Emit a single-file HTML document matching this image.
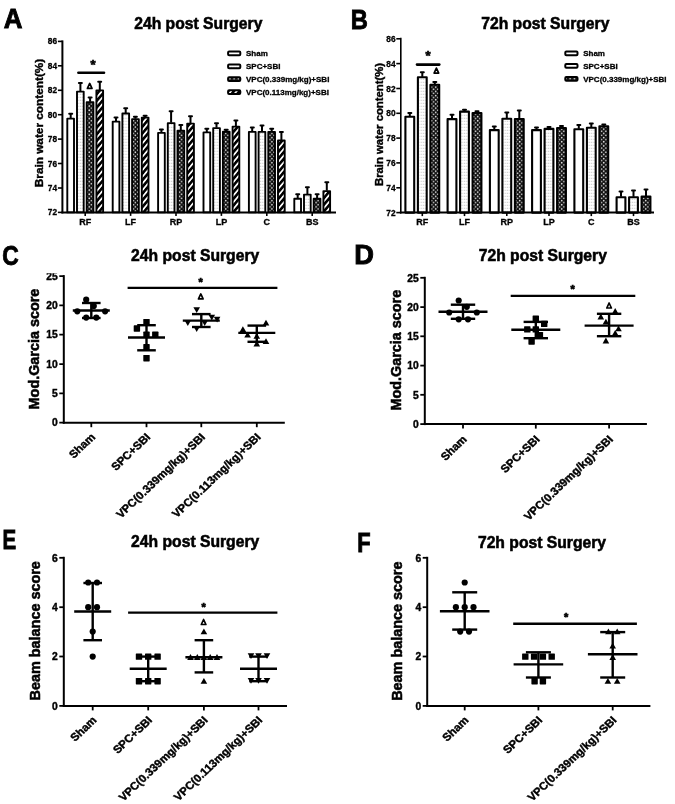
<!DOCTYPE html>
<html><head><meta charset="utf-8"><title>Figure</title>
<style>
html,body{margin:0;padding:0;background:#fff;}
svg{display:block;font-family:"Liberation Sans", Arial, sans-serif;}
text{fill:#000;}
</style></head><body>
<svg width="675" height="804" viewBox="0 0 675 804">
<defs>
<pattern id="pdot" width="2.4" height="3" patternUnits="userSpaceOnUse"><rect width="2.4" height="3" fill="#fff"/><rect x="0.6" y="0.8" width="1.2" height="1" fill="#c4c4c4"/></pattern>
<pattern id="pchk" width="4.2" height="4.2" patternUnits="userSpaceOnUse"><rect width="4.2" height="4.2" fill="#111"/><circle cx="1.05" cy="1.05" r="0.8" fill="#f0f0f0"/><circle cx="3.15" cy="3.15" r="0.8" fill="#f0f0f0"/></pattern>
<pattern id="pdiag" width="4.3" height="4.3" patternUnits="userSpaceOnUse" patternTransform="rotate(-50)"><rect width="4.3" height="4.3" fill="#fff"/><rect width="4.3" height="2.6" fill="#000"/></pattern>
<filter id="soft" x="-2%" y="-2%" width="104%" height="104%"><feGaussianBlur stdDeviation="0.55"/></filter>
<clipPath id="clipC"><rect x="0" y="273.3" width="340" height="300"/></clipPath>
</defs>
<rect width="675" height="804" fill="#fff"/>
<g filter="url(#soft)">

<text transform="translate(3.7 28.4) scale(0.96 1)" font-size="27" font-weight="bold" stroke="#000" stroke-width="0.9">A</text>
<text transform="translate(350.8 29.4) scale(0.877 1)" font-size="27" font-weight="bold" stroke="#000" stroke-width="0.9">B</text>
<text transform="translate(2.2 264.6) scale(0.845 1)" font-size="27" font-weight="bold" stroke="#000" stroke-width="0.9">C</text>
<text transform="translate(354.2 264.4) scale(1.01 1)" font-size="27" font-weight="bold" stroke="#000" stroke-width="0.9">D</text>
<text transform="translate(2.6 548.5) scale(0.76 1)" font-size="27" font-weight="bold" stroke="#000" stroke-width="0.9">E</text>
<text transform="translate(357.2 551.6) scale(0.81 1)" font-size="27" font-weight="bold" stroke="#000" stroke-width="0.9">F</text>
<line x1="70.7" y1="118.2" x2="70.7" y2="113.7" stroke="#000" stroke-width="2.0" stroke-linecap="butt"/>
<line x1="69.2" y1="113.7" x2="72.2" y2="113.7" stroke="#000" stroke-width="2.0" stroke-linecap="round"/>
<rect x="67.3" y="118.6" width="6.7" height="93.8" fill="#fff" stroke="#000" stroke-width="1.9" stroke-linejoin="round"/>
<line x1="80.4" y1="91.2" x2="80.4" y2="83.0" stroke="#000" stroke-width="2.0" stroke-linecap="butt"/>
<line x1="78.9" y1="83.0" x2="81.9" y2="83.0" stroke="#000" stroke-width="2.0" stroke-linecap="round"/>
<rect x="77.0" y="91.6" width="6.7" height="120.8" fill="url(#pdot)" stroke="#000" stroke-width="1.9" stroke-linejoin="round"/>
<line x1="90.1" y1="101.8" x2="90.1" y2="97.4" stroke="#000" stroke-width="2.0" stroke-linecap="butt"/>
<line x1="88.6" y1="97.4" x2="91.6" y2="97.4" stroke="#000" stroke-width="2.0" stroke-linecap="round"/>
<rect x="86.7" y="102.2" width="6.7" height="110.2" fill="url(#pchk)" stroke="#000" stroke-width="1.9" stroke-linejoin="round"/>
<line x1="99.8" y1="90.0" x2="99.8" y2="81.7" stroke="#000" stroke-width="2.0" stroke-linecap="butt"/>
<line x1="98.2" y1="81.7" x2="101.2" y2="81.7" stroke="#000" stroke-width="2.0" stroke-linecap="round"/>
<rect x="96.4" y="90.4" width="6.7" height="122.0" fill="url(#pdiag)" stroke="#000" stroke-width="1.9" stroke-linejoin="round"/>
<line x1="116.0" y1="121.2" x2="116.0" y2="117.5" stroke="#000" stroke-width="2.0" stroke-linecap="butt"/>
<line x1="114.5" y1="117.5" x2="117.5" y2="117.5" stroke="#000" stroke-width="2.0" stroke-linecap="round"/>
<rect x="112.7" y="121.6" width="6.7" height="90.8" fill="#fff" stroke="#000" stroke-width="1.9" stroke-linejoin="round"/>
<line x1="125.7" y1="113.1" x2="125.7" y2="108.2" stroke="#000" stroke-width="2.0" stroke-linecap="butt"/>
<line x1="124.2" y1="108.2" x2="127.2" y2="108.2" stroke="#000" stroke-width="2.0" stroke-linecap="round"/>
<rect x="122.4" y="113.5" width="6.7" height="98.9" fill="url(#pdot)" stroke="#000" stroke-width="1.9" stroke-linejoin="round"/>
<line x1="135.4" y1="118.7" x2="135.4" y2="116.7" stroke="#000" stroke-width="2.0" stroke-linecap="butt"/>
<line x1="133.9" y1="116.7" x2="136.9" y2="116.7" stroke="#000" stroke-width="2.0" stroke-linecap="round"/>
<rect x="132.1" y="119.1" width="6.7" height="93.3" fill="url(#pchk)" stroke="#000" stroke-width="1.9" stroke-linejoin="round"/>
<line x1="145.1" y1="117.2" x2="145.1" y2="115.7" stroke="#000" stroke-width="2.0" stroke-linecap="butt"/>
<line x1="143.6" y1="115.7" x2="146.6" y2="115.7" stroke="#000" stroke-width="2.0" stroke-linecap="round"/>
<rect x="141.8" y="117.6" width="6.7" height="94.8" fill="url(#pdiag)" stroke="#000" stroke-width="1.9" stroke-linejoin="round"/>
<line x1="161.4" y1="132.5" x2="161.4" y2="129.6" stroke="#000" stroke-width="2.0" stroke-linecap="butt"/>
<line x1="159.9" y1="129.6" x2="162.9" y2="129.6" stroke="#000" stroke-width="2.0" stroke-linecap="round"/>
<rect x="158.1" y="132.9" width="6.7" height="79.5" fill="#fff" stroke="#000" stroke-width="1.9" stroke-linejoin="round"/>
<line x1="171.1" y1="122.7" x2="171.1" y2="111.2" stroke="#000" stroke-width="2.0" stroke-linecap="butt"/>
<line x1="169.6" y1="111.2" x2="172.6" y2="111.2" stroke="#000" stroke-width="2.0" stroke-linecap="round"/>
<rect x="167.8" y="123.1" width="6.7" height="89.3" fill="url(#pdot)" stroke="#000" stroke-width="1.9" stroke-linejoin="round"/>
<line x1="180.8" y1="130.3" x2="180.8" y2="125.1" stroke="#000" stroke-width="2.0" stroke-linecap="butt"/>
<line x1="179.3" y1="125.1" x2="182.3" y2="125.1" stroke="#000" stroke-width="2.0" stroke-linecap="round"/>
<rect x="177.5" y="130.7" width="6.7" height="81.7" fill="url(#pchk)" stroke="#000" stroke-width="1.9" stroke-linejoin="round"/>
<line x1="190.5" y1="123.2" x2="190.5" y2="116.2" stroke="#000" stroke-width="2.0" stroke-linecap="butt"/>
<line x1="189.0" y1="116.2" x2="192.0" y2="116.2" stroke="#000" stroke-width="2.0" stroke-linecap="round"/>
<rect x="187.2" y="123.6" width="6.7" height="88.8" fill="url(#pdiag)" stroke="#000" stroke-width="1.9" stroke-linejoin="round"/>
<line x1="206.8" y1="132.0" x2="206.8" y2="128.8" stroke="#000" stroke-width="2.0" stroke-linecap="butt"/>
<line x1="205.3" y1="128.8" x2="208.3" y2="128.8" stroke="#000" stroke-width="2.0" stroke-linecap="round"/>
<rect x="203.5" y="132.4" width="6.7" height="80.0" fill="#fff" stroke="#000" stroke-width="1.9" stroke-linejoin="round"/>
<line x1="216.5" y1="127.7" x2="216.5" y2="123.3" stroke="#000" stroke-width="2.0" stroke-linecap="butt"/>
<line x1="215.0" y1="123.3" x2="218.0" y2="123.3" stroke="#000" stroke-width="2.0" stroke-linecap="round"/>
<rect x="213.2" y="128.1" width="6.7" height="84.3" fill="url(#pdot)" stroke="#000" stroke-width="1.9" stroke-linejoin="round"/>
<line x1="226.2" y1="131.3" x2="226.2" y2="129.8" stroke="#000" stroke-width="2.0" stroke-linecap="butt"/>
<line x1="224.7" y1="129.8" x2="227.7" y2="129.8" stroke="#000" stroke-width="2.0" stroke-linecap="round"/>
<rect x="222.9" y="131.7" width="6.7" height="80.7" fill="url(#pchk)" stroke="#000" stroke-width="1.9" stroke-linejoin="round"/>
<line x1="235.9" y1="126.2" x2="235.9" y2="120.5" stroke="#000" stroke-width="2.0" stroke-linecap="butt"/>
<line x1="234.4" y1="120.5" x2="237.4" y2="120.5" stroke="#000" stroke-width="2.0" stroke-linecap="round"/>
<rect x="232.6" y="126.6" width="6.7" height="85.8" fill="url(#pdiag)" stroke="#000" stroke-width="1.9" stroke-linejoin="round"/>
<line x1="252.2" y1="131.5" x2="252.2" y2="127.6" stroke="#000" stroke-width="2.0" stroke-linecap="butt"/>
<line x1="250.8" y1="127.6" x2="253.8" y2="127.6" stroke="#000" stroke-width="2.0" stroke-linecap="round"/>
<rect x="248.9" y="131.9" width="6.7" height="80.5" fill="#fff" stroke="#000" stroke-width="1.9" stroke-linejoin="round"/>
<line x1="262.0" y1="131.5" x2="262.0" y2="125.6" stroke="#000" stroke-width="2.0" stroke-linecap="butt"/>
<line x1="260.5" y1="125.6" x2="263.5" y2="125.6" stroke="#000" stroke-width="2.0" stroke-linecap="round"/>
<rect x="258.6" y="131.9" width="6.7" height="80.5" fill="url(#pdot)" stroke="#000" stroke-width="1.9" stroke-linejoin="round"/>
<line x1="271.7" y1="131.5" x2="271.7" y2="128.8" stroke="#000" stroke-width="2.0" stroke-linecap="butt"/>
<line x1="270.2" y1="128.8" x2="273.2" y2="128.8" stroke="#000" stroke-width="2.0" stroke-linecap="round"/>
<rect x="268.3" y="131.9" width="6.7" height="80.5" fill="url(#pchk)" stroke="#000" stroke-width="1.9" stroke-linejoin="round"/>
<line x1="281.4" y1="140.1" x2="281.4" y2="132.1" stroke="#000" stroke-width="2.0" stroke-linecap="butt"/>
<line x1="279.9" y1="132.1" x2="282.9" y2="132.1" stroke="#000" stroke-width="2.0" stroke-linecap="round"/>
<rect x="278.0" y="140.5" width="6.7" height="71.9" fill="url(#pdiag)" stroke="#000" stroke-width="1.9" stroke-linejoin="round"/>
<line x1="297.7" y1="198.3" x2="297.7" y2="194.3" stroke="#000" stroke-width="2.0" stroke-linecap="butt"/>
<line x1="296.2" y1="194.3" x2="299.2" y2="194.3" stroke="#000" stroke-width="2.0" stroke-linecap="round"/>
<rect x="294.3" y="198.7" width="6.7" height="13.7" fill="#fff" stroke="#000" stroke-width="1.9" stroke-linejoin="round"/>
<line x1="307.4" y1="194.2" x2="307.4" y2="187.3" stroke="#000" stroke-width="2.0" stroke-linecap="butt"/>
<line x1="305.9" y1="187.3" x2="308.9" y2="187.3" stroke="#000" stroke-width="2.0" stroke-linecap="round"/>
<rect x="304.0" y="194.6" width="6.7" height="17.8" fill="url(#pdot)" stroke="#000" stroke-width="1.9" stroke-linejoin="round"/>
<line x1="317.1" y1="198.3" x2="317.1" y2="194.3" stroke="#000" stroke-width="2.0" stroke-linecap="butt"/>
<line x1="315.6" y1="194.3" x2="318.6" y2="194.3" stroke="#000" stroke-width="2.0" stroke-linecap="round"/>
<rect x="313.7" y="198.7" width="6.7" height="13.7" fill="url(#pchk)" stroke="#000" stroke-width="1.9" stroke-linejoin="round"/>
<line x1="326.8" y1="190.7" x2="326.8" y2="182.2" stroke="#000" stroke-width="2.0" stroke-linecap="butt"/>
<line x1="325.3" y1="182.2" x2="328.3" y2="182.2" stroke="#000" stroke-width="2.0" stroke-linecap="round"/>
<rect x="323.4" y="191.1" width="6.7" height="21.3" fill="url(#pdiag)" stroke="#000" stroke-width="1.9" stroke-linejoin="round"/>
<line x1="62.4" y1="40.4" x2="62.4" y2="213.4" stroke="#000" stroke-width="2" stroke-linecap="butt"/>
<line x1="61.4" y1="212.4" x2="336.0" y2="212.4" stroke="#000" stroke-width="2" stroke-linecap="butt"/>
<line x1="57.9" y1="212.4" x2="62.4" y2="212.4" stroke="#000" stroke-width="1.6" stroke-linecap="butt"/>
<text x="57.1" y="215.4" font-size="8.3" text-anchor="end" font-weight="bold" stroke="#000" stroke-width="0.3">72</text>
<line x1="57.9" y1="188.0" x2="62.4" y2="188.0" stroke="#000" stroke-width="1.6" stroke-linecap="butt"/>
<text x="57.1" y="191.0" font-size="8.3" text-anchor="end" font-weight="bold" stroke="#000" stroke-width="0.3">74</text>
<line x1="57.9" y1="163.5" x2="62.4" y2="163.5" stroke="#000" stroke-width="1.6" stroke-linecap="butt"/>
<text x="57.1" y="166.5" font-size="8.3" text-anchor="end" font-weight="bold" stroke="#000" stroke-width="0.3">76</text>
<line x1="57.9" y1="139.1" x2="62.4" y2="139.1" stroke="#000" stroke-width="1.6" stroke-linecap="butt"/>
<text x="57.1" y="142.1" font-size="8.3" text-anchor="end" font-weight="bold" stroke="#000" stroke-width="0.3">78</text>
<line x1="57.9" y1="114.7" x2="62.4" y2="114.7" stroke="#000" stroke-width="1.6" stroke-linecap="butt"/>
<text x="57.1" y="117.7" font-size="8.3" text-anchor="end" font-weight="bold" stroke="#000" stroke-width="0.3">80</text>
<line x1="57.9" y1="90.3" x2="62.4" y2="90.3" stroke="#000" stroke-width="1.6" stroke-linecap="butt"/>
<text x="57.1" y="93.3" font-size="8.3" text-anchor="end" font-weight="bold" stroke="#000" stroke-width="0.3">82</text>
<line x1="57.9" y1="65.8" x2="62.4" y2="65.8" stroke="#000" stroke-width="1.6" stroke-linecap="butt"/>
<text x="57.1" y="68.8" font-size="8.3" text-anchor="end" font-weight="bold" stroke="#000" stroke-width="0.3">84</text>
<line x1="57.9" y1="41.4" x2="62.4" y2="41.4" stroke="#000" stroke-width="1.6" stroke-linecap="butt"/>
<text x="57.1" y="44.4" font-size="8.3" text-anchor="end" font-weight="bold" stroke="#000" stroke-width="0.3">86</text>
<line x1="85.2" y1="212.4" x2="85.2" y2="215.9" stroke="#000" stroke-width="1.6" stroke-linecap="butt"/>
<text x="85.2" y="225.0" font-size="9" text-anchor="middle" font-weight="bold" stroke="#000" stroke-width="0.3">RF</text>
<line x1="130.6" y1="212.4" x2="130.6" y2="215.9" stroke="#000" stroke-width="1.6" stroke-linecap="butt"/>
<text x="130.6" y="225.0" font-size="9" text-anchor="middle" font-weight="bold" stroke="#000" stroke-width="0.3">LF</text>
<line x1="176.0" y1="212.4" x2="176.0" y2="215.9" stroke="#000" stroke-width="1.6" stroke-linecap="butt"/>
<text x="176.0" y="225.0" font-size="9" text-anchor="middle" font-weight="bold" stroke="#000" stroke-width="0.3">RP</text>
<line x1="221.4" y1="212.4" x2="221.4" y2="215.9" stroke="#000" stroke-width="1.6" stroke-linecap="butt"/>
<text x="221.4" y="225.0" font-size="9" text-anchor="middle" font-weight="bold" stroke="#000" stroke-width="0.3">LP</text>
<line x1="266.8" y1="212.4" x2="266.8" y2="215.9" stroke="#000" stroke-width="1.6" stroke-linecap="butt"/>
<text x="266.8" y="225.0" font-size="9" text-anchor="middle" font-weight="bold" stroke="#000" stroke-width="0.3">C</text>
<line x1="312.2" y1="212.4" x2="312.2" y2="215.9" stroke="#000" stroke-width="1.6" stroke-linecap="butt"/>
<text x="312.2" y="225.0" font-size="9" text-anchor="middle" font-weight="bold" stroke="#000" stroke-width="0.3">BS</text>
<text transform="translate(43.3 123.0) scale(1.0 1) rotate(-90)" font-size="11.8" text-anchor="middle" font-weight="bold" stroke="#000" stroke-width="0.4">Brain water content(%)</text>
<text x="198.3" y="28.8" font-size="15.7" text-anchor="middle" font-weight="bold" stroke="#000" stroke-width="0.55">24h post Surgery</text>
<line x1="78.4" y1="72.8" x2="104.0" y2="72.8" stroke="#000" stroke-width="2.6" stroke-linecap="round"/>
<text x="93.0" y="68.6" font-size="13" text-anchor="middle" font-weight="bold" stroke="#000" stroke-width="0.7">*</text>
<path d="M87.4,88.4 L89.7,83.4 L92.0,88.4 Z" fill="#fff" stroke="#000" stroke-width="1.7" stroke-linejoin="round"/>
<rect x="228.1" y="51.6" width="12.2" height="3.7" rx="1" fill="#fff" stroke="#000" stroke-width="2"/>
<text x="246.0" y="56.1" font-size="8" text-anchor="start" font-weight="bold" stroke="#000" stroke-width="0.3">Sham</text>
<rect x="228.1" y="64.5" width="12.2" height="3.7" rx="1" fill="url(#pdot)" stroke="#000" stroke-width="2"/>
<text x="246.0" y="69.0" font-size="8" text-anchor="start" font-weight="bold" stroke="#000" stroke-width="0.3">SPC+SBI</text>
<rect x="228.1" y="77.3" width="12.2" height="3.7" rx="1" fill="url(#pchk)" stroke="#000" stroke-width="2"/>
<text x="246.0" y="81.8" font-size="8" text-anchor="start" font-weight="bold" stroke="#000" stroke-width="0.3">VPC(0.339mg/kg)+SBI</text>
<rect x="228.1" y="90.2" width="12.2" height="3.7" rx="1" fill="url(#pdiag)" stroke="#000" stroke-width="2"/>
<text x="246.0" y="94.7" font-size="8" text-anchor="start" font-weight="bold" stroke="#000" stroke-width="0.3">VPC(0.113mg/kg)+SBI</text>
<line x1="409.8" y1="116.3" x2="409.8" y2="113.0" stroke="#000" stroke-width="2.0" stroke-linecap="butt"/>
<line x1="408.3" y1="113.0" x2="411.3" y2="113.0" stroke="#000" stroke-width="2.0" stroke-linecap="round"/>
<rect x="405.4" y="116.7" width="8.8" height="95.9" fill="#fff" stroke="#000" stroke-width="2.1" stroke-linejoin="round"/>
<line x1="422.3" y1="76.9" x2="422.3" y2="72.2" stroke="#000" stroke-width="2.0" stroke-linecap="butt"/>
<line x1="420.8" y1="72.2" x2="423.8" y2="72.2" stroke="#000" stroke-width="2.0" stroke-linecap="round"/>
<rect x="417.9" y="77.3" width="8.8" height="135.3" fill="url(#pdot)" stroke="#000" stroke-width="2.1" stroke-linejoin="round"/>
<line x1="434.8" y1="84.4" x2="434.8" y2="82.0" stroke="#000" stroke-width="2.0" stroke-linecap="butt"/>
<line x1="433.3" y1="82.0" x2="436.3" y2="82.0" stroke="#000" stroke-width="2.0" stroke-linecap="round"/>
<rect x="430.4" y="84.8" width="8.8" height="127.8" fill="url(#pchk)" stroke="#000" stroke-width="2.1" stroke-linejoin="round"/>
<line x1="452.0" y1="118.7" x2="452.0" y2="114.8" stroke="#000" stroke-width="2.0" stroke-linecap="butt"/>
<line x1="450.5" y1="114.8" x2="453.5" y2="114.8" stroke="#000" stroke-width="2.0" stroke-linecap="round"/>
<rect x="447.6" y="119.1" width="8.8" height="93.5" fill="#fff" stroke="#000" stroke-width="2.1" stroke-linejoin="round"/>
<line x1="464.5" y1="111.2" x2="464.5" y2="109.7" stroke="#000" stroke-width="2.0" stroke-linecap="butt"/>
<line x1="463.0" y1="109.7" x2="466.0" y2="109.7" stroke="#000" stroke-width="2.0" stroke-linecap="round"/>
<rect x="460.1" y="111.6" width="8.8" height="101.0" fill="url(#pdot)" stroke="#000" stroke-width="2.1" stroke-linejoin="round"/>
<line x1="477.0" y1="112.7" x2="477.0" y2="111.2" stroke="#000" stroke-width="2.0" stroke-linecap="butt"/>
<line x1="475.5" y1="111.2" x2="478.5" y2="111.2" stroke="#000" stroke-width="2.0" stroke-linecap="round"/>
<rect x="472.6" y="113.1" width="8.8" height="99.5" fill="url(#pchk)" stroke="#000" stroke-width="2.1" stroke-linejoin="round"/>
<line x1="494.3" y1="129.7" x2="494.3" y2="126.5" stroke="#000" stroke-width="2.0" stroke-linecap="butt"/>
<line x1="492.8" y1="126.5" x2="495.8" y2="126.5" stroke="#000" stroke-width="2.0" stroke-linecap="round"/>
<rect x="489.9" y="130.1" width="8.8" height="82.5" fill="#fff" stroke="#000" stroke-width="2.1" stroke-linejoin="round"/>
<line x1="506.8" y1="118.4" x2="506.8" y2="112.4" stroke="#000" stroke-width="2.0" stroke-linecap="butt"/>
<line x1="505.3" y1="112.4" x2="508.3" y2="112.4" stroke="#000" stroke-width="2.0" stroke-linecap="round"/>
<rect x="502.4" y="118.8" width="8.8" height="93.8" fill="url(#pdot)" stroke="#000" stroke-width="2.1" stroke-linejoin="round"/>
<line x1="519.3" y1="118.7" x2="519.3" y2="110.4" stroke="#000" stroke-width="2.0" stroke-linecap="butt"/>
<line x1="517.8" y1="110.4" x2="520.8" y2="110.4" stroke="#000" stroke-width="2.0" stroke-linecap="round"/>
<rect x="514.9" y="119.1" width="8.8" height="93.5" fill="url(#pchk)" stroke="#000" stroke-width="2.1" stroke-linejoin="round"/>
<line x1="536.5" y1="129.7" x2="536.5" y2="127.4" stroke="#000" stroke-width="2.0" stroke-linecap="butt"/>
<line x1="535.0" y1="127.4" x2="538.0" y2="127.4" stroke="#000" stroke-width="2.0" stroke-linecap="round"/>
<rect x="532.1" y="130.1" width="8.8" height="82.5" fill="#fff" stroke="#000" stroke-width="2.1" stroke-linejoin="round"/>
<line x1="549.0" y1="128.5" x2="549.0" y2="127.0" stroke="#000" stroke-width="2.0" stroke-linecap="butt"/>
<line x1="547.5" y1="127.0" x2="550.5" y2="127.0" stroke="#000" stroke-width="2.0" stroke-linecap="round"/>
<rect x="544.6" y="128.9" width="8.8" height="83.7" fill="url(#pdot)" stroke="#000" stroke-width="2.1" stroke-linejoin="round"/>
<line x1="561.5" y1="127.6" x2="561.5" y2="126.1" stroke="#000" stroke-width="2.0" stroke-linecap="butt"/>
<line x1="560.0" y1="126.1" x2="563.0" y2="126.1" stroke="#000" stroke-width="2.0" stroke-linecap="round"/>
<rect x="557.1" y="128.0" width="8.8" height="84.6" fill="url(#pchk)" stroke="#000" stroke-width="2.1" stroke-linejoin="round"/>
<line x1="578.8" y1="128.8" x2="578.8" y2="125.0" stroke="#000" stroke-width="2.0" stroke-linecap="butt"/>
<line x1="577.3" y1="125.0" x2="580.3" y2="125.0" stroke="#000" stroke-width="2.0" stroke-linecap="round"/>
<rect x="574.4" y="129.2" width="8.8" height="83.4" fill="#fff" stroke="#000" stroke-width="2.1" stroke-linejoin="round"/>
<line x1="591.3" y1="127.3" x2="591.3" y2="123.5" stroke="#000" stroke-width="2.0" stroke-linecap="butt"/>
<line x1="589.8" y1="123.5" x2="592.8" y2="123.5" stroke="#000" stroke-width="2.0" stroke-linecap="round"/>
<rect x="586.9" y="127.7" width="8.8" height="84.9" fill="url(#pdot)" stroke="#000" stroke-width="2.1" stroke-linejoin="round"/>
<line x1="603.8" y1="125.9" x2="603.8" y2="124.4" stroke="#000" stroke-width="2.0" stroke-linecap="butt"/>
<line x1="602.3" y1="124.4" x2="605.3" y2="124.4" stroke="#000" stroke-width="2.0" stroke-linecap="round"/>
<rect x="599.4" y="126.3" width="8.8" height="86.3" fill="url(#pchk)" stroke="#000" stroke-width="2.1" stroke-linejoin="round"/>
<line x1="621.0" y1="196.8" x2="621.0" y2="191.5" stroke="#000" stroke-width="2.0" stroke-linecap="butt"/>
<line x1="619.5" y1="191.5" x2="622.5" y2="191.5" stroke="#000" stroke-width="2.0" stroke-linecap="round"/>
<rect x="616.6" y="197.2" width="8.8" height="15.4" fill="#fff" stroke="#000" stroke-width="2.1" stroke-linejoin="round"/>
<line x1="633.5" y1="196.8" x2="633.5" y2="190.6" stroke="#000" stroke-width="2.0" stroke-linecap="butt"/>
<line x1="632.0" y1="190.6" x2="635.0" y2="190.6" stroke="#000" stroke-width="2.0" stroke-linecap="round"/>
<rect x="629.1" y="197.2" width="8.8" height="15.4" fill="url(#pdot)" stroke="#000" stroke-width="2.1" stroke-linejoin="round"/>
<line x1="646.0" y1="196.2" x2="646.0" y2="189.4" stroke="#000" stroke-width="2.0" stroke-linecap="butt"/>
<line x1="644.5" y1="189.4" x2="647.5" y2="189.4" stroke="#000" stroke-width="2.0" stroke-linecap="round"/>
<rect x="641.6" y="196.6" width="8.8" height="16.0" fill="url(#pchk)" stroke="#000" stroke-width="2.1" stroke-linejoin="round"/>
<line x1="400.8" y1="37.8" x2="400.8" y2="213.6" stroke="#000" stroke-width="1.6" stroke-linecap="butt"/>
<line x1="399.8" y1="212.6" x2="654.0" y2="212.6" stroke="#000" stroke-width="2" stroke-linecap="butt"/>
<line x1="396.3" y1="212.6" x2="400.8" y2="212.6" stroke="#000" stroke-width="1.6" stroke-linecap="butt"/>
<text x="395.5" y="215.6" font-size="8.3" text-anchor="end" font-weight="bold" stroke="#000" stroke-width="0.3">72</text>
<line x1="396.3" y1="187.8" x2="400.8" y2="187.8" stroke="#000" stroke-width="1.6" stroke-linecap="butt"/>
<text x="395.5" y="190.8" font-size="8.3" text-anchor="end" font-weight="bold" stroke="#000" stroke-width="0.3">74</text>
<line x1="396.3" y1="162.9" x2="400.8" y2="162.9" stroke="#000" stroke-width="1.6" stroke-linecap="butt"/>
<text x="395.5" y="165.9" font-size="8.3" text-anchor="end" font-weight="bold" stroke="#000" stroke-width="0.3">76</text>
<line x1="396.3" y1="138.1" x2="400.8" y2="138.1" stroke="#000" stroke-width="1.6" stroke-linecap="butt"/>
<text x="395.5" y="141.1" font-size="8.3" text-anchor="end" font-weight="bold" stroke="#000" stroke-width="0.3">78</text>
<line x1="396.3" y1="113.3" x2="400.8" y2="113.3" stroke="#000" stroke-width="1.6" stroke-linecap="butt"/>
<text x="395.5" y="116.3" font-size="8.3" text-anchor="end" font-weight="bold" stroke="#000" stroke-width="0.3">80</text>
<line x1="396.3" y1="88.5" x2="400.8" y2="88.5" stroke="#000" stroke-width="1.6" stroke-linecap="butt"/>
<text x="395.5" y="91.5" font-size="8.3" text-anchor="end" font-weight="bold" stroke="#000" stroke-width="0.3">82</text>
<line x1="396.3" y1="63.6" x2="400.8" y2="63.6" stroke="#000" stroke-width="1.6" stroke-linecap="butt"/>
<text x="395.5" y="66.6" font-size="8.3" text-anchor="end" font-weight="bold" stroke="#000" stroke-width="0.3">84</text>
<line x1="396.3" y1="38.8" x2="400.8" y2="38.8" stroke="#000" stroke-width="1.6" stroke-linecap="butt"/>
<text x="395.5" y="41.8" font-size="8.3" text-anchor="end" font-weight="bold" stroke="#000" stroke-width="0.3">86</text>
<line x1="422.3" y1="212.6" x2="422.3" y2="216.1" stroke="#000" stroke-width="1.6" stroke-linecap="butt"/>
<text x="422.3" y="225.2" font-size="9" text-anchor="middle" font-weight="bold" stroke="#000" stroke-width="0.3">RF</text>
<line x1="464.5" y1="212.6" x2="464.5" y2="216.1" stroke="#000" stroke-width="1.6" stroke-linecap="butt"/>
<text x="464.5" y="225.2" font-size="9" text-anchor="middle" font-weight="bold" stroke="#000" stroke-width="0.3">LF</text>
<line x1="506.8" y1="212.6" x2="506.8" y2="216.1" stroke="#000" stroke-width="1.6" stroke-linecap="butt"/>
<text x="506.8" y="225.2" font-size="9" text-anchor="middle" font-weight="bold" stroke="#000" stroke-width="0.3">RP</text>
<line x1="549.0" y1="212.6" x2="549.0" y2="216.1" stroke="#000" stroke-width="1.6" stroke-linecap="butt"/>
<text x="549.0" y="225.2" font-size="9" text-anchor="middle" font-weight="bold" stroke="#000" stroke-width="0.3">LP</text>
<line x1="591.3" y1="212.6" x2="591.3" y2="216.1" stroke="#000" stroke-width="1.6" stroke-linecap="butt"/>
<text x="591.3" y="225.2" font-size="9" text-anchor="middle" font-weight="bold" stroke="#000" stroke-width="0.3">C</text>
<line x1="633.5" y1="212.6" x2="633.5" y2="216.1" stroke="#000" stroke-width="1.6" stroke-linecap="butt"/>
<text x="633.5" y="225.2" font-size="9" text-anchor="middle" font-weight="bold" stroke="#000" stroke-width="0.3">BS</text>
<text transform="translate(383.2 124.5) scale(1.0 1) rotate(-90)" font-size="11.3" text-anchor="middle" font-weight="bold" stroke="#000" stroke-width="0.4">Brain water content(%)</text>
<text x="545.3" y="28.8" font-size="15.7" text-anchor="middle" font-weight="bold" stroke="#000" stroke-width="0.55">72h post Surgery</text>
<line x1="417.0" y1="64.6" x2="439.3" y2="64.6" stroke="#000" stroke-width="2.6" stroke-linecap="round"/>
<text x="428.0" y="60.3" font-size="13" text-anchor="middle" font-weight="bold" stroke="#000" stroke-width="0.7">*</text>
<path d="M434.1,73.1 L436.4,68.1 L438.7,73.1 Z" fill="#fff" stroke="#000" stroke-width="1.7" stroke-linejoin="round"/>
<rect x="565.3" y="51.5" width="12.2" height="3.7" rx="1" fill="#fff" stroke="#000" stroke-width="2"/>
<text x="583.2" y="56.0" font-size="8" text-anchor="start" font-weight="bold" stroke="#000" stroke-width="0.3">Sham</text>
<rect x="565.3" y="64.0" width="12.2" height="3.7" rx="1" fill="url(#pdot)" stroke="#000" stroke-width="2"/>
<text x="583.2" y="68.5" font-size="8" text-anchor="start" font-weight="bold" stroke="#000" stroke-width="0.3">SPC+SBI</text>
<rect x="565.3" y="77.0" width="12.2" height="3.7" rx="1" fill="url(#pchk)" stroke="#000" stroke-width="2"/>
<text x="583.2" y="81.5" font-size="8" text-anchor="start" font-weight="bold" stroke="#000" stroke-width="0.3">VPC(0.339mg/kg)+SBI</text>
<line x1="72.8" y1="310.5" x2="109.8" y2="310.5" stroke="#000" stroke-width="2.4" stroke-linecap="butt"/>
<line x1="82.0" y1="303.0" x2="100.6" y2="303.0" stroke="#000" stroke-width="2.4" stroke-linecap="butt"/>
<line x1="82.0" y1="318.0" x2="100.6" y2="318.0" stroke="#000" stroke-width="2.4" stroke-linecap="butt"/>
<line x1="91.3" y1="303.0" x2="91.3" y2="318.0" stroke="#000" stroke-width="2.4" stroke-linecap="butt"/>
<circle cx="86.2" cy="299.7" r="3.1" fill="#000"/>
<circle cx="93.8" cy="306.0" r="3.1" fill="#000"/>
<circle cx="77.3" cy="311.3" r="3.1" fill="#000"/>
<circle cx="105.1" cy="311.3" r="3.1" fill="#000"/>
<circle cx="86.2" cy="317.6" r="3.1" fill="#000"/>
<circle cx="96.3" cy="317.6" r="3.1" fill="#000"/>
<line x1="128.0" y1="337.5" x2="165.0" y2="337.5" stroke="#000" stroke-width="2.4" stroke-linecap="butt"/>
<line x1="137.2" y1="325.2" x2="155.8" y2="325.2" stroke="#000" stroke-width="2.4" stroke-linecap="butt"/>
<line x1="137.2" y1="350.3" x2="155.8" y2="350.3" stroke="#000" stroke-width="2.4" stroke-linecap="butt"/>
<line x1="146.5" y1="325.2" x2="146.5" y2="350.3" stroke="#000" stroke-width="2.4" stroke-linecap="butt"/>
<rect x="143.3" y="319.0" width="6.4" height="6.4" rx="0.6" fill="#000"/>
<rect x="133.7" y="325.3" width="6.4" height="6.4" rx="0.6" fill="#000"/>
<rect x="143.3" y="331.6" width="6.4" height="6.4" rx="0.6" fill="#000"/>
<rect x="152.1" y="331.6" width="6.4" height="6.4" rx="0.6" fill="#000"/>
<rect x="143.3" y="344.1" width="6.4" height="6.4" rx="0.6" fill="#000"/>
<rect x="143.3" y="355.0" width="6.4" height="6.4" rx="0.6" fill="#000"/>
<line x1="182.8" y1="320.6" x2="219.8" y2="320.6" stroke="#000" stroke-width="2.4" stroke-linecap="butt"/>
<line x1="192.0" y1="314.1" x2="210.6" y2="314.1" stroke="#000" stroke-width="2.4" stroke-linecap="butt"/>
<line x1="192.0" y1="327.0" x2="210.6" y2="327.0" stroke="#000" stroke-width="2.4" stroke-linecap="butt"/>
<line x1="201.3" y1="314.1" x2="201.3" y2="327.0" stroke="#000" stroke-width="2.4" stroke-linecap="butt"/>
<path d="M193.4,307.2 L196.7,313.0 L200.0,307.2 Z" fill="#000"/>
<path d="M208.5,314.8 L211.8,320.6 L215.1,314.8 Z" fill="#000"/>
<path d="M213.8,316.7 L217.1,322.5 L220.4,316.7 Z" fill="#000"/>
<path d="M184.5,320.3 L187.8,326.1 L191.1,320.3 Z" fill="#000"/>
<path d="M201.4,320.3 L204.7,326.1 L208.0,320.3 Z" fill="#000"/>
<path d="M193.4,326.3 L196.7,332.1 L200.0,326.3 Z" fill="#000"/>
<line x1="238.3" y1="332.9" x2="275.3" y2="332.9" stroke="#000" stroke-width="2.4" stroke-linecap="butt"/>
<line x1="247.5" y1="325.6" x2="266.1" y2="325.6" stroke="#000" stroke-width="2.4" stroke-linecap="butt"/>
<line x1="247.5" y1="341.8" x2="266.1" y2="341.8" stroke="#000" stroke-width="2.4" stroke-linecap="butt"/>
<line x1="256.8" y1="325.6" x2="256.8" y2="341.8" stroke="#000" stroke-width="2.4" stroke-linecap="butt"/>
<path d="M262.7,325.5 L266.0,319.7 L269.3,325.5 Z" fill="#000"/>
<path d="M239.6,332.1 L242.9,326.3 L246.2,332.1 Z" fill="#000"/>
<path d="M244.3,337.6 L247.6,331.8 L250.9,337.6 Z" fill="#000"/>
<path d="M253.5,338.8 L256.8,333.0 L260.1,338.8 Z" fill="#000"/>
<path d="M262.7,344.0 L266.0,338.2 L269.3,344.0 Z" fill="#000"/>
<path d="M253.5,346.4 L256.8,340.6 L260.1,346.4 Z" fill="#000"/>
<line x1="63.8" y1="275.1" x2="63.8" y2="423.7" stroke="#000" stroke-width="2" stroke-linecap="butt"/>
<line x1="62.8" y1="422.7" x2="284.8" y2="422.7" stroke="#000" stroke-width="2" stroke-linecap="butt"/>
<g clip-path="url(#clipC)">
<line x1="59.3" y1="422.7" x2="63.8" y2="422.7" stroke="#000" stroke-width="1.8" stroke-linecap="butt"/>
<text x="57.8" y="426.4" font-size="10.3" text-anchor="end" font-weight="bold" stroke="#000" stroke-width="0.4">0</text>
<line x1="59.3" y1="393.4" x2="63.8" y2="393.4" stroke="#000" stroke-width="1.8" stroke-linecap="butt"/>
<text x="57.8" y="397.1" font-size="10.3" text-anchor="end" font-weight="bold" stroke="#000" stroke-width="0.4">5</text>
<line x1="59.3" y1="364.1" x2="63.8" y2="364.1" stroke="#000" stroke-width="1.8" stroke-linecap="butt"/>
<text x="57.8" y="367.8" font-size="10.3" text-anchor="end" font-weight="bold" stroke="#000" stroke-width="0.4">10</text>
<line x1="59.3" y1="334.7" x2="63.8" y2="334.7" stroke="#000" stroke-width="1.8" stroke-linecap="butt"/>
<text x="57.8" y="338.4" font-size="10.3" text-anchor="end" font-weight="bold" stroke="#000" stroke-width="0.4">15</text>
<line x1="59.3" y1="305.4" x2="63.8" y2="305.4" stroke="#000" stroke-width="1.8" stroke-linecap="butt"/>
<text x="57.8" y="309.1" font-size="10.3" text-anchor="end" font-weight="bold" stroke="#000" stroke-width="0.4">20</text>
<line x1="59.3" y1="276.1" x2="63.8" y2="276.1" stroke="#000" stroke-width="1.8" stroke-linecap="butt"/>
<text x="57.8" y="279.8" font-size="10.3" text-anchor="end" font-weight="bold" stroke="#000" stroke-width="0.4">25</text>
</g>
<line x1="91.3" y1="422.7" x2="91.3" y2="427.2" stroke="#000" stroke-width="1.8" stroke-linecap="butt"/>
<text transform="translate(95.9 437.8) scale(1.05 1) rotate(-45)" font-size="11" text-anchor="end" font-weight="bold" stroke="#000" stroke-width="0.4">Sham</text>
<line x1="146.5" y1="422.7" x2="146.5" y2="427.2" stroke="#000" stroke-width="1.8" stroke-linecap="butt"/>
<text transform="translate(151.1 437.8) scale(1.05 1) rotate(-45)" font-size="11" text-anchor="end" font-weight="bold" stroke="#000" stroke-width="0.4">SPC+SBI</text>
<line x1="201.3" y1="422.7" x2="201.3" y2="427.2" stroke="#000" stroke-width="1.8" stroke-linecap="butt"/>
<text transform="translate(205.9 437.8) scale(1.05 1) rotate(-45)" font-size="11" text-anchor="end" font-weight="bold" stroke="#000" stroke-width="0.4">VPC(0.339mg/kg)+SBI</text>
<line x1="256.8" y1="422.7" x2="256.8" y2="427.2" stroke="#000" stroke-width="1.8" stroke-linecap="butt"/>
<text transform="translate(261.4 437.8) scale(1.05 1) rotate(-45)" font-size="11" text-anchor="end" font-weight="bold" stroke="#000" stroke-width="0.4">VPC(0.113mg/kg)+SBI</text>
<text transform="translate(39.0 349.0) scale(1.0 1) rotate(-90)" font-size="14.4" text-anchor="middle" font-weight="bold" stroke="#000" stroke-width="0.55">Mod.Garcia score</text>
<text x="195.2" y="260.8" font-size="15.7" text-anchor="middle" font-weight="bold" stroke="#000" stroke-width="0.55">24h post Surgery</text>
<line x1="127.6" y1="287.9" x2="277.4" y2="287.9" stroke="#000" stroke-width="2.2" stroke-linecap="butt"/>
<text x="200.6" y="285.9" font-size="11" text-anchor="middle" font-weight="bold" stroke="#000" stroke-width="0.7">*</text>
<path d="M198.5,298.9 L200.8,293.9 L203.1,298.9 Z" fill="#fff" stroke="#000" stroke-width="1.7" stroke-linejoin="round"/>
<line x1="438.5" y1="311.8" x2="487.5" y2="311.8" stroke="#000" stroke-width="2.4" stroke-linecap="butt"/>
<line x1="450.8" y1="304.7" x2="475.2" y2="304.7" stroke="#000" stroke-width="2.4" stroke-linecap="butt"/>
<line x1="450.8" y1="318.8" x2="475.2" y2="318.8" stroke="#000" stroke-width="2.4" stroke-linecap="butt"/>
<line x1="463.0" y1="304.7" x2="463.0" y2="318.8" stroke="#000" stroke-width="2.4" stroke-linecap="butt"/>
<circle cx="458.7" cy="300.5" r="3.1" fill="#000"/>
<circle cx="466.8" cy="306.8" r="3.1" fill="#000"/>
<circle cx="449.2" cy="312.5" r="3.1" fill="#000"/>
<circle cx="476.8" cy="312.5" r="3.1" fill="#000"/>
<circle cx="458.7" cy="319.3" r="3.1" fill="#000"/>
<circle cx="468.0" cy="319.3" r="3.1" fill="#000"/>
<line x1="511.3" y1="329.7" x2="560.3" y2="329.7" stroke="#000" stroke-width="2.4" stroke-linecap="butt"/>
<line x1="523.6" y1="321.9" x2="548.0" y2="321.9" stroke="#000" stroke-width="2.4" stroke-linecap="butt"/>
<line x1="523.6" y1="338.2" x2="548.0" y2="338.2" stroke="#000" stroke-width="2.4" stroke-linecap="butt"/>
<line x1="535.8" y1="321.9" x2="535.8" y2="338.2" stroke="#000" stroke-width="2.4" stroke-linecap="butt"/>
<rect x="532.6" y="315.4" width="6.4" height="6.4" rx="0.6" fill="#000"/>
<rect x="541.0" y="320.7" width="6.4" height="6.4" rx="0.6" fill="#000"/>
<rect x="524.1" y="326.2" width="6.4" height="6.4" rx="0.6" fill="#000"/>
<rect x="532.6" y="326.2" width="6.4" height="6.4" rx="0.6" fill="#000"/>
<rect x="536.7" y="332.0" width="6.4" height="6.4" rx="0.6" fill="#000"/>
<rect x="528.4" y="338.3" width="6.4" height="6.4" rx="0.6" fill="#000"/>
<line x1="584.6" y1="325.6" x2="633.6" y2="325.6" stroke="#000" stroke-width="2.4" stroke-linecap="butt"/>
<line x1="596.9" y1="313.8" x2="621.3" y2="313.8" stroke="#000" stroke-width="2.4" stroke-linecap="butt"/>
<line x1="596.9" y1="336.2" x2="621.3" y2="336.2" stroke="#000" stroke-width="2.4" stroke-linecap="butt"/>
<line x1="609.1" y1="313.8" x2="609.1" y2="336.2" stroke="#000" stroke-width="2.4" stroke-linecap="butt"/>
<path d="M611.9,313.9 L615.2,308.1 L618.5,313.9 Z" fill="#000"/>
<path d="M597.5,319.4 L600.8,313.6 L604.1,319.4 Z" fill="#000"/>
<path d="M602.6,324.5 L605.9,318.7 L609.2,324.5 Z" fill="#000"/>
<path d="M615.2,331.3 L618.5,325.5 L621.8,331.3 Z" fill="#000"/>
<path d="M611.9,335.8 L615.2,330.0 L618.5,335.8 Z" fill="#000"/>
<path d="M602.6,343.4 L605.9,337.6 L609.2,343.4 Z" fill="#000"/>
<line x1="424.8" y1="276.8" x2="424.8" y2="425.1" stroke="#000" stroke-width="2" stroke-linecap="butt"/>
<line x1="423.8" y1="424.1" x2="646.9" y2="424.1" stroke="#000" stroke-width="2" stroke-linecap="butt"/>
<line x1="420.3" y1="424.1" x2="424.8" y2="424.1" stroke="#000" stroke-width="1.8" stroke-linecap="butt"/>
<text x="418.8" y="427.8" font-size="10.3" text-anchor="end" font-weight="bold" stroke="#000" stroke-width="0.4">0</text>
<line x1="420.3" y1="394.8" x2="424.8" y2="394.8" stroke="#000" stroke-width="1.8" stroke-linecap="butt"/>
<text x="418.8" y="398.5" font-size="10.3" text-anchor="end" font-weight="bold" stroke="#000" stroke-width="0.4">5</text>
<line x1="420.3" y1="365.6" x2="424.8" y2="365.6" stroke="#000" stroke-width="1.8" stroke-linecap="butt"/>
<text x="418.8" y="369.3" font-size="10.3" text-anchor="end" font-weight="bold" stroke="#000" stroke-width="0.4">10</text>
<line x1="420.3" y1="336.3" x2="424.8" y2="336.3" stroke="#000" stroke-width="1.8" stroke-linecap="butt"/>
<text x="418.8" y="340.0" font-size="10.3" text-anchor="end" font-weight="bold" stroke="#000" stroke-width="0.4">15</text>
<line x1="420.3" y1="307.1" x2="424.8" y2="307.1" stroke="#000" stroke-width="1.8" stroke-linecap="butt"/>
<text x="418.8" y="310.8" font-size="10.3" text-anchor="end" font-weight="bold" stroke="#000" stroke-width="0.4">20</text>
<line x1="420.3" y1="277.8" x2="424.8" y2="277.8" stroke="#000" stroke-width="1.8" stroke-linecap="butt"/>
<text x="418.8" y="281.5" font-size="10.3" text-anchor="end" font-weight="bold" stroke="#000" stroke-width="0.4">25</text>
<line x1="463.0" y1="424.1" x2="463.0" y2="428.6" stroke="#000" stroke-width="1.8" stroke-linecap="butt"/>
<text transform="translate(467.6 440.0) scale(1.05 1) rotate(-45)" font-size="11" text-anchor="end" font-weight="bold" stroke="#000" stroke-width="0.4">Sham</text>
<line x1="535.8" y1="424.1" x2="535.8" y2="428.6" stroke="#000" stroke-width="1.8" stroke-linecap="butt"/>
<text transform="translate(540.4 440.0) scale(1.05 1) rotate(-45)" font-size="11" text-anchor="end" font-weight="bold" stroke="#000" stroke-width="0.4">SPC+SBI</text>
<line x1="609.1" y1="424.1" x2="609.1" y2="428.6" stroke="#000" stroke-width="1.8" stroke-linecap="butt"/>
<text transform="translate(613.7 440.0) scale(1.05 1) rotate(-45)" font-size="11" text-anchor="end" font-weight="bold" stroke="#000" stroke-width="0.4">VPC(0.339mg/kg)+SBI</text>
<text transform="translate(400.6 350.2) scale(1.0 1) rotate(-90)" font-size="14.4" text-anchor="middle" font-weight="bold" stroke="#000" stroke-width="0.55">Mod.Garcia score</text>
<text x="542.8" y="261.3" font-size="15.7" text-anchor="middle" font-weight="bold" stroke="#000" stroke-width="0.55">72h post Surgery</text>
<line x1="510.7" y1="295.9" x2="635.3" y2="295.9" stroke="#000" stroke-width="2.4" stroke-linecap="butt"/>
<text x="572.6" y="292.7" font-size="11" text-anchor="middle" font-weight="bold" stroke="#000" stroke-width="0.7">*</text>
<path d="M606.8,308.0 L609.1,303.0 L611.4,308.0 Z" fill="#fff" stroke="#000" stroke-width="1.7" stroke-linejoin="round"/>
<line x1="74.2" y1="611.5" x2="111.2" y2="611.5" stroke="#000" stroke-width="2.4" stroke-linecap="butt"/>
<line x1="83.4" y1="583.0" x2="102.0" y2="583.0" stroke="#000" stroke-width="2.4" stroke-linecap="butt"/>
<line x1="83.4" y1="640.2" x2="102.0" y2="640.2" stroke="#000" stroke-width="2.4" stroke-linecap="butt"/>
<line x1="92.7" y1="583.0" x2="92.7" y2="640.2" stroke="#000" stroke-width="2.4" stroke-linecap="butt"/>
<circle cx="88.2" cy="582.5" r="3.1" fill="#000"/>
<circle cx="97.0" cy="582.5" r="3.1" fill="#000"/>
<circle cx="88.2" cy="607.2" r="3.1" fill="#000"/>
<circle cx="97.0" cy="607.2" r="3.1" fill="#000"/>
<circle cx="92.7" cy="631.6" r="3.1" fill="#000"/>
<circle cx="92.7" cy="656.6" r="3.1" fill="#000"/>
<line x1="129.7" y1="668.7" x2="166.7" y2="668.7" stroke="#000" stroke-width="2.4" stroke-linecap="butt"/>
<line x1="138.9" y1="656.6" x2="157.5" y2="656.6" stroke="#000" stroke-width="2.4" stroke-linecap="butt"/>
<line x1="138.9" y1="681.2" x2="157.5" y2="681.2" stroke="#000" stroke-width="2.4" stroke-linecap="butt"/>
<line x1="148.2" y1="656.6" x2="148.2" y2="681.2" stroke="#000" stroke-width="2.4" stroke-linecap="butt"/>
<rect x="135.8" y="653.4" width="6.4" height="6.4" rx="0.6" fill="#000"/>
<rect x="145.0" y="653.4" width="6.4" height="6.4" rx="0.6" fill="#000"/>
<rect x="154.4" y="653.4" width="6.4" height="6.4" rx="0.6" fill="#000"/>
<rect x="135.8" y="678.0" width="6.4" height="6.4" rx="0.6" fill="#000"/>
<rect x="145.0" y="678.0" width="6.4" height="6.4" rx="0.6" fill="#000"/>
<rect x="154.4" y="678.0" width="6.4" height="6.4" rx="0.6" fill="#000"/>
<line x1="185.4" y1="657.3" x2="222.4" y2="657.3" stroke="#000" stroke-width="2.4" stroke-linecap="butt"/>
<line x1="194.6" y1="640.2" x2="213.2" y2="640.2" stroke="#000" stroke-width="2.4" stroke-linecap="butt"/>
<line x1="194.6" y1="672.4" x2="213.2" y2="672.4" stroke="#000" stroke-width="2.4" stroke-linecap="butt"/>
<line x1="203.9" y1="640.2" x2="203.9" y2="672.4" stroke="#000" stroke-width="2.4" stroke-linecap="butt"/>
<path d="M200.6,634.2 L203.9,628.4 L207.2,634.2 Z" fill="#000"/>
<path d="M187.2,659.9 L190.5,654.1 L193.8,659.9 Z" fill="#000"/>
<path d="M194.0,659.9 L197.3,654.1 L200.6,659.9 Z" fill="#000"/>
<path d="M200.6,659.9 L203.9,654.1 L207.2,659.9 Z" fill="#000"/>
<path d="M206.9,659.9 L210.2,654.1 L213.5,659.9 Z" fill="#000"/>
<path d="M213.7,659.9 L217.0,654.1 L220.3,659.9 Z" fill="#000"/>
<path d="M200.6,683.8 L203.9,678.0 L207.2,683.8 Z" fill="#000"/>
<line x1="240.0" y1="668.7" x2="277.0" y2="668.7" stroke="#000" stroke-width="2.4" stroke-linecap="butt"/>
<line x1="249.2" y1="656.6" x2="267.8" y2="656.6" stroke="#000" stroke-width="2.4" stroke-linecap="butt"/>
<line x1="249.2" y1="681.2" x2="267.8" y2="681.2" stroke="#000" stroke-width="2.4" stroke-linecap="butt"/>
<line x1="258.5" y1="656.6" x2="258.5" y2="681.2" stroke="#000" stroke-width="2.4" stroke-linecap="butt"/>
<path d="M247.7,653.2 L251.0,659.0 L254.3,653.2 Z" fill="#000"/>
<path d="M255.2,653.2 L258.5,659.0 L261.8,653.2 Z" fill="#000"/>
<path d="M263.7,653.2 L267.0,659.0 L270.3,653.2 Z" fill="#000"/>
<path d="M247.7,677.9 L251.0,683.7 L254.3,677.9 Z" fill="#000"/>
<path d="M255.2,677.9 L258.5,683.7 L261.8,677.9 Z" fill="#000"/>
<path d="M263.7,677.9 L267.0,683.7 L270.3,677.9 Z" fill="#000"/>
<line x1="63.8" y1="556.8" x2="63.8" y2="706.9" stroke="#000" stroke-width="2" stroke-linecap="butt"/>
<line x1="62.8" y1="705.9" x2="287.0" y2="705.9" stroke="#000" stroke-width="2" stroke-linecap="butt"/>
<line x1="59.3" y1="705.9" x2="63.8" y2="705.9" stroke="#000" stroke-width="1.8" stroke-linecap="butt"/>
<text x="57.8" y="709.6" font-size="10.3" text-anchor="end" font-weight="bold" stroke="#000" stroke-width="0.4">0</text>
<line x1="59.3" y1="656.5" x2="63.8" y2="656.5" stroke="#000" stroke-width="1.8" stroke-linecap="butt"/>
<text x="57.8" y="660.2" font-size="10.3" text-anchor="end" font-weight="bold" stroke="#000" stroke-width="0.4">2</text>
<line x1="59.3" y1="607.2" x2="63.8" y2="607.2" stroke="#000" stroke-width="1.8" stroke-linecap="butt"/>
<text x="57.8" y="610.9" font-size="10.3" text-anchor="end" font-weight="bold" stroke="#000" stroke-width="0.4">4</text>
<line x1="59.3" y1="557.8" x2="63.8" y2="557.8" stroke="#000" stroke-width="1.8" stroke-linecap="butt"/>
<text x="57.8" y="561.5" font-size="10.3" text-anchor="end" font-weight="bold" stroke="#000" stroke-width="0.4">6</text>
<line x1="92.7" y1="705.9" x2="92.7" y2="710.4" stroke="#000" stroke-width="1.8" stroke-linecap="butt"/>
<text transform="translate(97.3 720.9) scale(1.05 1) rotate(-45)" font-size="11" text-anchor="end" font-weight="bold" stroke="#000" stroke-width="0.4">Sham</text>
<line x1="148.2" y1="705.9" x2="148.2" y2="710.4" stroke="#000" stroke-width="1.8" stroke-linecap="butt"/>
<text transform="translate(152.8 720.9) scale(1.05 1) rotate(-45)" font-size="11" text-anchor="end" font-weight="bold" stroke="#000" stroke-width="0.4">SPC+SBI</text>
<line x1="203.9" y1="705.9" x2="203.9" y2="710.4" stroke="#000" stroke-width="1.8" stroke-linecap="butt"/>
<text transform="translate(208.5 720.9) scale(1.05 1) rotate(-45)" font-size="11" text-anchor="end" font-weight="bold" stroke="#000" stroke-width="0.4">VPC(0.339mg/kg)+SBI</text>
<line x1="258.5" y1="705.9" x2="258.5" y2="710.4" stroke="#000" stroke-width="1.8" stroke-linecap="butt"/>
<text transform="translate(263.1 720.9) scale(1.05 1) rotate(-45)" font-size="11" text-anchor="end" font-weight="bold" stroke="#000" stroke-width="0.4">VPC(0.113mg/kg)+SBI</text>
<text transform="translate(39.8 630.8) scale(1.0 1) rotate(-90)" font-size="14.4" text-anchor="middle" font-weight="bold" stroke="#000" stroke-width="0.55">Beam balance score</text>
<text x="195.2" y="546.7" font-size="15.7" text-anchor="middle" font-weight="bold" stroke="#000" stroke-width="0.55">24h post Surgery</text>
<line x1="128.1" y1="612.7" x2="277.4" y2="612.7" stroke="#000" stroke-width="2.2" stroke-linecap="butt"/>
<text x="203.6" y="610.8" font-size="11" text-anchor="middle" font-weight="bold" stroke="#000" stroke-width="0.7">*</text>
<path d="M201.3,624.5 L203.6,619.5 L205.9,624.5 Z" fill="#fff" stroke="#000" stroke-width="1.7" stroke-linejoin="round"/>
<line x1="439.9" y1="611.2" x2="489.5" y2="611.2" stroke="#000" stroke-width="2.4" stroke-linecap="butt"/>
<line x1="452.2" y1="592.3" x2="477.2" y2="592.3" stroke="#000" stroke-width="2.4" stroke-linecap="butt"/>
<line x1="452.2" y1="629.6" x2="477.2" y2="629.6" stroke="#000" stroke-width="2.4" stroke-linecap="butt"/>
<line x1="464.7" y1="592.3" x2="464.7" y2="629.6" stroke="#000" stroke-width="2.4" stroke-linecap="butt"/>
<circle cx="464.7" cy="582.5" r="3.1" fill="#000"/>
<circle cx="455.9" cy="607.2" r="3.1" fill="#000"/>
<circle cx="464.7" cy="607.2" r="3.1" fill="#000"/>
<circle cx="473.5" cy="607.2" r="3.1" fill="#000"/>
<circle cx="460.2" cy="631.6" r="3.1" fill="#000"/>
<circle cx="469.0" cy="631.6" r="3.1" fill="#000"/>
<line x1="513.6" y1="664.4" x2="563.2" y2="664.4" stroke="#000" stroke-width="2.4" stroke-linecap="butt"/>
<line x1="525.9" y1="652.3" x2="550.9" y2="652.3" stroke="#000" stroke-width="2.4" stroke-linecap="butt"/>
<line x1="525.9" y1="677.5" x2="550.9" y2="677.5" stroke="#000" stroke-width="2.4" stroke-linecap="butt"/>
<line x1="538.4" y1="652.3" x2="538.4" y2="677.5" stroke="#000" stroke-width="2.4" stroke-linecap="butt"/>
<rect x="522.1" y="653.4" width="6.4" height="6.4" rx="0.6" fill="#000"/>
<rect x="530.9" y="653.4" width="6.4" height="6.4" rx="0.6" fill="#000"/>
<rect x="539.7" y="653.4" width="6.4" height="6.4" rx="0.6" fill="#000"/>
<rect x="548.5" y="653.4" width="6.4" height="6.4" rx="0.6" fill="#000"/>
<rect x="531.4" y="678.0" width="6.4" height="6.4" rx="0.6" fill="#000"/>
<rect x="539.7" y="678.0" width="6.4" height="6.4" rx="0.6" fill="#000"/>
<line x1="587.9" y1="654.3" x2="637.5" y2="654.3" stroke="#000" stroke-width="2.4" stroke-linecap="butt"/>
<line x1="600.2" y1="632.1" x2="625.2" y2="632.1" stroke="#000" stroke-width="2.4" stroke-linecap="butt"/>
<line x1="600.2" y1="677.5" x2="625.2" y2="677.5" stroke="#000" stroke-width="2.4" stroke-linecap="butt"/>
<line x1="612.7" y1="632.1" x2="612.7" y2="677.5" stroke="#000" stroke-width="2.4" stroke-linecap="butt"/>
<path d="M605.1,634.2 L608.4,628.4 L611.7,634.2 Z" fill="#000"/>
<path d="M613.9,634.2 L617.2,628.4 L620.5,634.2 Z" fill="#000"/>
<path d="M609.4,648.6 L612.7,642.8 L616.0,648.6 Z" fill="#000"/>
<path d="M609.4,659.9 L612.7,654.1 L616.0,659.9 Z" fill="#000"/>
<path d="M604.6,683.8 L607.9,678.0 L611.2,683.8 Z" fill="#000"/>
<path d="M613.9,683.8 L617.2,678.0 L620.5,683.8 Z" fill="#000"/>
<line x1="427.2" y1="556.8" x2="427.2" y2="706.9" stroke="#000" stroke-width="2" stroke-linecap="butt"/>
<line x1="426.2" y1="705.9" x2="650.4" y2="705.9" stroke="#000" stroke-width="2" stroke-linecap="butt"/>
<line x1="422.7" y1="705.9" x2="427.2" y2="705.9" stroke="#000" stroke-width="1.8" stroke-linecap="butt"/>
<text x="421.2" y="709.6" font-size="10.3" text-anchor="end" font-weight="bold" stroke="#000" stroke-width="0.4">0</text>
<line x1="422.7" y1="656.5" x2="427.2" y2="656.5" stroke="#000" stroke-width="1.8" stroke-linecap="butt"/>
<text x="421.2" y="660.2" font-size="10.3" text-anchor="end" font-weight="bold" stroke="#000" stroke-width="0.4">2</text>
<line x1="422.7" y1="607.2" x2="427.2" y2="607.2" stroke="#000" stroke-width="1.8" stroke-linecap="butt"/>
<text x="421.2" y="610.9" font-size="10.3" text-anchor="end" font-weight="bold" stroke="#000" stroke-width="0.4">4</text>
<line x1="422.7" y1="557.8" x2="427.2" y2="557.8" stroke="#000" stroke-width="1.8" stroke-linecap="butt"/>
<text x="421.2" y="561.5" font-size="10.3" text-anchor="end" font-weight="bold" stroke="#000" stroke-width="0.4">6</text>
<line x1="464.7" y1="705.9" x2="464.7" y2="710.4" stroke="#000" stroke-width="1.8" stroke-linecap="butt"/>
<text transform="translate(469.3 720.9) scale(1.05 1) rotate(-45)" font-size="11" text-anchor="end" font-weight="bold" stroke="#000" stroke-width="0.4">Sham</text>
<line x1="538.4" y1="705.9" x2="538.4" y2="710.4" stroke="#000" stroke-width="1.8" stroke-linecap="butt"/>
<text transform="translate(543.0 720.9) scale(1.05 1) rotate(-45)" font-size="11" text-anchor="end" font-weight="bold" stroke="#000" stroke-width="0.4">SPC+SBI</text>
<line x1="612.7" y1="705.9" x2="612.7" y2="710.4" stroke="#000" stroke-width="1.8" stroke-linecap="butt"/>
<text transform="translate(617.3 720.9) scale(1.05 1) rotate(-45)" font-size="11" text-anchor="end" font-weight="bold" stroke="#000" stroke-width="0.4">VPC(0.339mg/kg)+SBI</text>
<text transform="translate(401.8 631.2) scale(1.0 1) rotate(-90)" font-size="14.4" text-anchor="middle" font-weight="bold" stroke="#000" stroke-width="0.55">Beam balance score</text>
<text x="542.0" y="547.7" font-size="15.7" text-anchor="middle" font-weight="bold" stroke="#000" stroke-width="0.55">72h post Surgery</text>
<line x1="513.2" y1="623.8" x2="636.9" y2="623.8" stroke="#000" stroke-width="2.4" stroke-linecap="butt"/>
<text x="566.1" y="621.4" font-size="11" text-anchor="middle" font-weight="bold" stroke="#000" stroke-width="0.7">*</text>
</g></svg></body></html>
